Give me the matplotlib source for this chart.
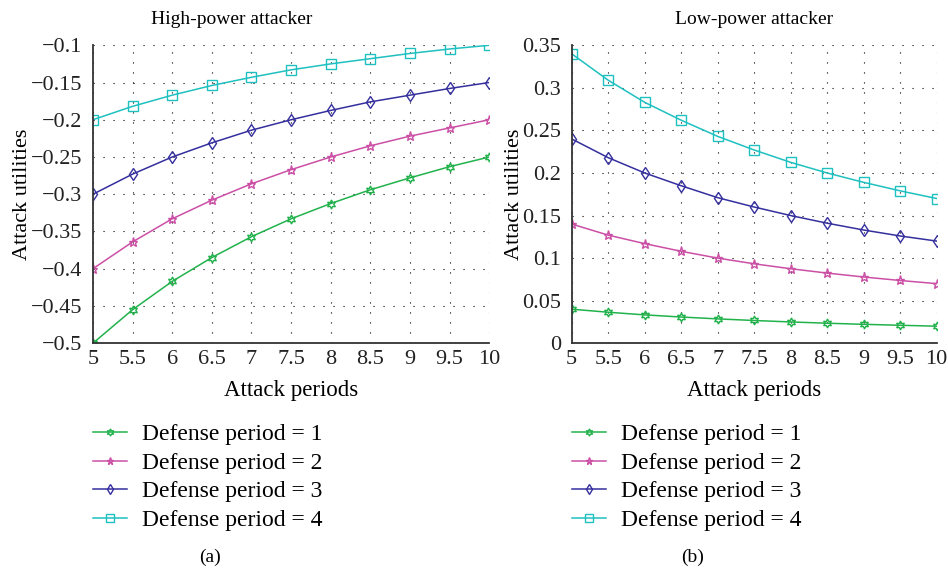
import matplotlib.pyplot as plt

plt.rcParams["font.family"] = ["Liberation Serif", "DejaVu Serif"]

attack_periods = [5, 5.5, 6, 6.5, 7, 7.5, 8, 8.5, 9, 9.5, 10]

# high-power attacker
high_d1 = [-0.5, -0.455, -0.417, -0.385, -0.357, -0.333, -0.3125, -0.294, -0.278, -0.263, -0.25]
high_d2 = [-0.4, -0.364, -0.333, -0.308, -0.286, -0.267, -0.25, -0.235, -0.222, -0.211, -0.2]
high_d3 = [-0.3, -0.273, -0.25, -0.231, -0.214, -0.2, -0.1875, -0.176, -0.167, -0.158, -0.15]
high_d4 = [-0.2, -0.182, -0.167, -0.154, -0.143, -0.133, -0.125, -0.118, -0.111, -0.105, -0.1]

# low-power attacker
low_d1 = [0.04, 0.0364, 0.0333, 0.0308, 0.0286, 0.0267, 0.025, 0.0235, 0.0222, 0.0211, 0.02]
low_d2 = [0.14, 0.127, 0.117, 0.108, 0.1, 0.0933, 0.0875, 0.0824, 0.0778, 0.0737, 0.07]
low_d3 = [0.24, 0.218, 0.2, 0.185, 0.171, 0.16, 0.15, 0.141, 0.133, 0.126, 0.12]
low_d4 = [0.34, 0.309, 0.283, 0.262, 0.243, 0.227, 0.2125, 0.2, 0.189, 0.179, 0.17]

labels = ["Defense period = 1", "Defense period = 2", "Defense period = 3", "Defense period = 4"]
colors = ["#22b24c", "#cc4fa6", "#352f9e", "#1fc0c0"]
markers = [(6, 1, 0), "*", "d", "s"]
high_yticks = [-0.5, -0.45, -0.4, -0.35, -0.3, -0.25, -0.2, -0.15, -0.1]
low_yticks = [0, 0.05, 0.1, 0.15, 0.2, 0.25, 0.3, 0.35]

fig = plt.figure(figsize=(9.48, 5.73), dpi=100)
ax1 = fig.add_axes([0.098, 0.401, 0.418, 0.520])
ax2 = fig.add_axes([0.603, 0.401, 0.385, 0.520])


def draw(ax, series, yticks, title, title_x, tag, tag_x):
    for ys, lab, c, m in zip(series, labels, colors, markers):
        ax.plot(attack_periods, ys, color=c, marker=m, markersize=6.5, linewidth=1.1,
                markerfacecolor="none", markeredgewidth=1.0, label=lab)
    ax.set_xlim(5, 10)
    ax.set_ylim(yticks[0], yticks[-1])
    ax.set_xticks(attack_periods)
    ax.set_xticklabels([f"{x:g}" for x in attack_periods])
    ax.set_yticks(yticks)
    ax.set_yticklabels([f"{y:g}".replace("-", "\u2212") for y in yticks])
    ax.grid(True, color="black", linestyle=(0, (1, 8)), linewidth=0.8)
    for side in ("top", "right"):
        ax.spines[side].set_visible(False)
    for side in ("left", "bottom"):
        ax.spines[side].set_color("#333333")
        ax.spines[side].set_linewidth(1.3)
    ax.tick_params(length=0, labelsize=16, colors="#222222")
    ax.tick_params(axis="y", pad=7.5)
    ax.tick_params(axis="x", pad=5)
    ax.set_title(title, fontsize=14, pad=15, x=title_x)
    ax.set_xlabel("Attack periods", fontsize=16.5, labelpad=8)
    ax.set_ylabel("Attack utilities", fontsize=16, labelpad=-1)
    ax.legend(loc="upper left", bbox_to_anchor=(0, -0.27), frameon=False, borderpad=0,
              borderaxespad=0, fontsize=17, handlelength=1.45, handletextpad=0.65,
              labelspacing=0.3, markerscale=0.8)
    ax.text(tag_x, -0.72, tag, transform=ax.transAxes, ha="center", va="center", fontsize=14)


draw(ax1, [high_d1, high_d2, high_d3, high_d4], high_yticks, "High-power attacker", 0.35, "(a)", 0.295)
draw(ax2, [low_d1, low_d2, low_d3, low_d4], low_yticks, "Low-power attacker", 0.5, "(b)", 0.33)

fig.savefig("out.png", dpi=100)
